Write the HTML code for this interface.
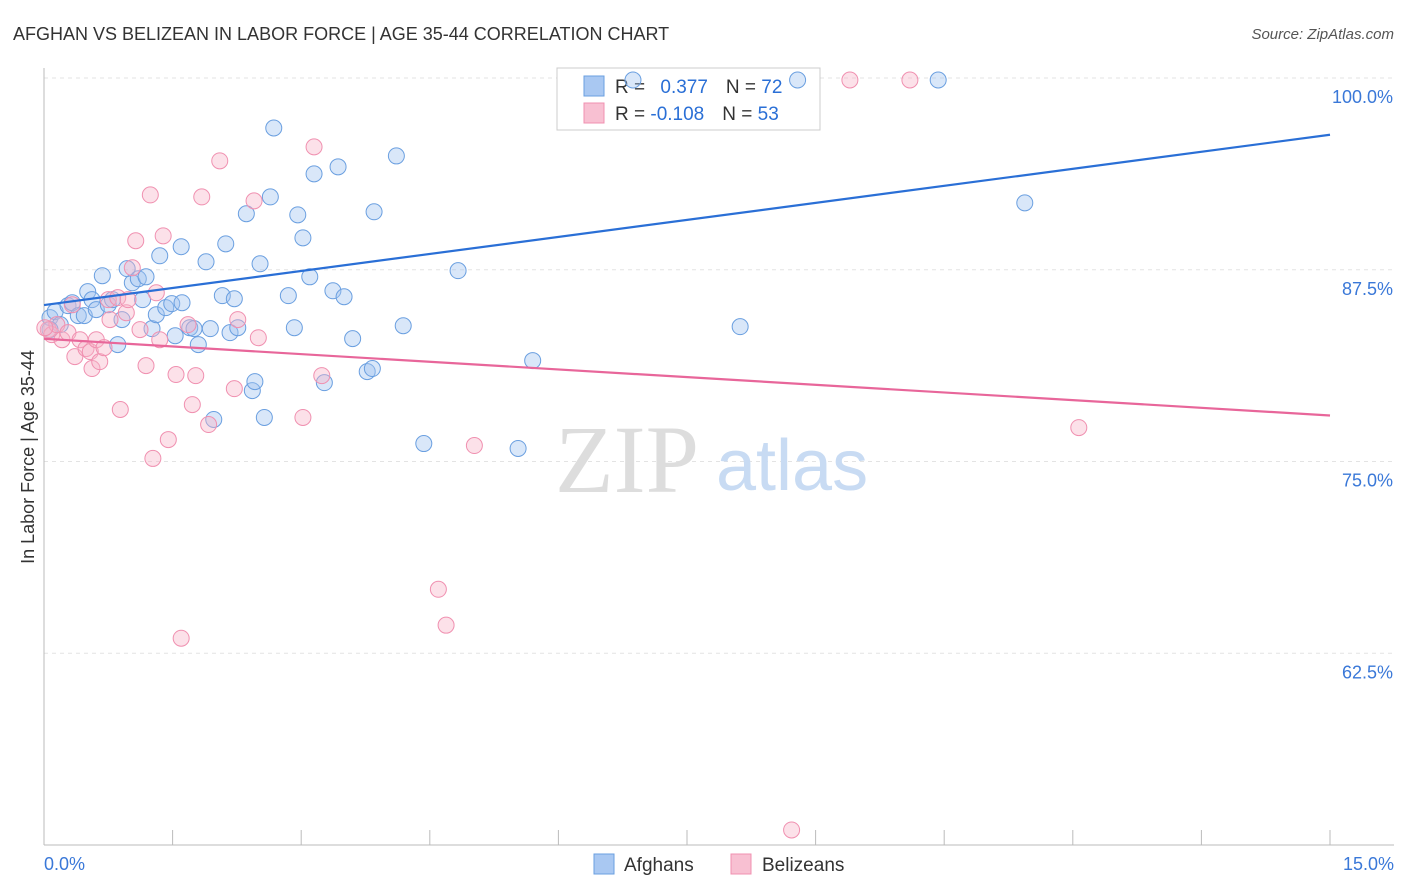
<!DOCTYPE html>
<html><head><meta charset="utf-8"><style>
body{margin:0;background:#fff;font-family:"Liberation Sans",sans-serif;}
svg{display:block}
</style></head><body>
<svg id="chart" width="1406" height="892" xmlns="http://www.w3.org/2000/svg">
<text x="13" y="40" font-size="18" fill="#333">AFGHAN VS BELIZEAN IN LABOR FORCE | AGE 35-44 CORRELATION CHART</text>
<text x="1394" y="39" font-size="15" fill="#555" text-anchor="end" font-style="italic">Source: ZipAtlas.com</text>
<text x="34" y="457" font-size="18" fill="#333" text-anchor="middle" transform="rotate(-90 34 457)">In Labor Force | Age 35-44</text>
<g id="grid"></g>
<g id="axes"></g>
<text x="555" y="492" font-size="96" fill="#ddd" font-family="Liberation Serif,serif">ZIP</text>
<text x="716" y="490" font-size="72" fill="#c8dbf3">atlas</text>
<g>
<rect x="557" y="68" width="263" height="62" fill="#fff" stroke="#ccc"/>
<rect x="584" y="76" width="20" height="20" fill="#a9c8f2" stroke="#6a9fe0"/>
<text x="615" y="93" font-size="19" fill="#333">R = <tspan fill="#2a6fd6" dx="10">0.377</tspan><tspan dx="18" fill="#333">N = </tspan><tspan fill="#2a6fd6">72</tspan></text>
<rect x="584" y="103" width="20" height="20" fill="#f8c0d2" stroke="#f090b0"/>
<text x="615" y="120" font-size="19" fill="#333">R = <tspan fill="#2a6fd6">-0.108</tspan><tspan dx="18" fill="#333">N = </tspan><tspan fill="#2a6fd6">53</tspan></text>
</g>
<g id="points"></g>
<g id="lines"></g>
<g>
<rect x="594" y="854" width="20" height="20" fill="#a9c8f2" stroke="#6a9fe0"/>
<text x="624" y="871" font-size="19" fill="#333">Afghans</text>
<rect x="731" y="854" width="20" height="20" fill="#f8c0d2" stroke="#f090b0"/>
<text x="762" y="871" font-size="19" fill="#333">Belizeans</text>
</g>
</svg>
<script>
const afghanX=[0.07,0.13,0.19,0.28,0.33,0.40,0.47,0.51,0.56,0.61,0.68,0.75,0.80,0.86,0.91,0.97,1.03,1.10,1.15,1.19,1.26,1.31,1.35,1.42,1.49,1.53,1.61,1.60,1.70,1.75,1.80,1.89,1.94,2.08,2.12,2.17,2.22,2.26,2.36,2.43,2.46,2.52,2.57,2.64,2.68,2.85,2.92,2.96,3.02,3.10,3.15,3.27,3.37,3.43,3.50,3.60,3.77,3.83,3.85,4.11,4.19,4.43,4.83,5.53,5.70,8.12,8.79,10.43,11.44,6.87,1.98,0.07];
const afghanY=[84.38,84.77,83.92,85.16,85.35,84.51,84.51,86.07,85.55,84.90,87.11,85.22,85.55,82.62,84.25,87.57,86.65,86.91,85.55,87.04,83.66,84.57,88.41,85.03,85.29,83.20,85.35,89.00,83.72,83.66,82.62,88.02,83.66,85.81,89.19,83.40,85.61,83.72,91.15,79.62,80.21,87.89,77.87,92.25,96.74,85.81,83.72,91.08,89.58,87.04,93.75,80.14,86.13,94.21,85.74,83.01,80.86,81.06,91.28,94.92,83.85,76.17,87.44,75.85,81.58,83.79,99.87,99.87,91.86,99.87,77.74,83.60];
const belizeanX=[0.05,0.09,0.15,0.21,0.28,0.33,0.36,0.42,0.49,0.54,0.56,0.61,0.65,0.70,0.75,0.77,0.86,0.89,0.96,0.98,1.03,1.07,1.12,1.19,1.24,1.27,1.31,1.35,1.39,1.45,1.54,1.60,1.68,1.73,1.77,1.84,1.92,2.05,2.22,2.26,2.45,2.50,3.02,3.15,3.24,4.60,4.69,5.02,8.72,9.40,10.10,12.07,0.01];
const belizeanY=[83.60,83.27,83.92,82.94,83.40,85.22,81.84,82.94,82.36,82.16,81.06,82.94,81.51,82.42,85.55,84.25,85.68,78.39,84.70,85.55,87.63,89.39,83.60,81.25,92.38,75.20,86.00,82.94,89.71,76.43,80.67,63.48,83.92,78.71,80.60,92.25,77.41,94.60,79.75,84.25,91.99,83.07,77.87,95.51,80.60,66.67,64.33,76.04,50.98,99.87,99.87,77.21,83.72];
const trendX=[0,15];
const afghanTrend=[85.2,96.3];
const belizeanTrend=[83.0,78.0];
const yTicks=[100,87.5,75,62.5];
const yTickLabels=["100.0%","87.5%","75.0%","62.5%"];
const xTickVals=[0,1.5,3,4.5,6,7.5,9,10.5,12,13.5,15];

const X0=44,X1=1330,Ymin=50,Ymax=100,PY0=845,PY1=78;
const sx=v=>X0+(v/15)*(X1-X0);
const sy=v=>PY0-(v-Ymin)/(Ymax-Ymin)*(PY0-PY1);
const NS="http://www.w3.org/2000/svg";
function mk(tag,attrs,parent){const e=document.createElementNS(NS,tag);for(const k in attrs)e.setAttribute(k,attrs[k]);parent.appendChild(e);return e;}
const grid=document.getElementById('grid'),axes=document.getElementById('axes');
yTicks.forEach((t,i)=>{
  const l=mk('line',{x1:X0,x2:1394,y1:sy(t),y2:sy(t),stroke:'#e3e3e3','stroke-dasharray':'4,4'},grid);
  
  
  const tx=mk('text',{x:1393,y:sy(t)+25,'font-size':18,fill:'#3a78d8','text-anchor':'end'},grid);
  tx.textContent=yTickLabels[i];
  
  
});
let a=mk('line',{x1:X0,x2:X0,y1:68,y2:PY0,stroke:'#bbb'},axes);


a=mk('line',{x1:X0,x2:1394,y1:PY0,y2:PY0,stroke:'#bbb'},axes);


xTickVals.forEach(v=>{
  const t=mk('line',{x1:sx(v),x2:sx(v),y1:830,y2:PY0,stroke:'#bbb'},axes);
  
  
});
let xl=mk('text',{x:44,y:870,'font-size':18,fill:'#3a78d8'},axes);xl.textContent='0.0%';


xl=mk('text',{x:1394,y:870,'font-size':18,fill:'#3a78d8','text-anchor':'end'},axes);xl.textContent='15.0%';


const pts=document.getElementById('points');
afghanX.forEach((v,i)=>{
  const c=mk('circle',{cx:sx(v),cy:sy(afghanY[i]),r:8,fill:'rgba(160,196,240,0.4)',stroke:'#6a9fe0','stroke-width':1},pts);
  
  
});
belizeanX.forEach((v,i)=>{
  const c=mk('circle',{cx:sx(v),cy:sy(belizeanY[i]),r:8,fill:'rgba(248,180,200,0.4)',stroke:'#f090b0','stroke-width':1},pts);
  
  
});
const ln=document.getElementById('lines');
let tl=mk('line',{x1:sx(trendX[0]),x2:sx(trendX[1]),y1:sy(afghanTrend[0]),y2:sy(afghanTrend[1]),stroke:'#2a6fd6','stroke-width':2.2},ln);


tl=mk('line',{x1:sx(trendX[0]),x2:sx(trendX[1]),y1:sy(belizeanTrend[0]),y2:sy(belizeanTrend[1]),stroke:'#e8669a','stroke-width':2.2},ln);


</script>
</body></html>
